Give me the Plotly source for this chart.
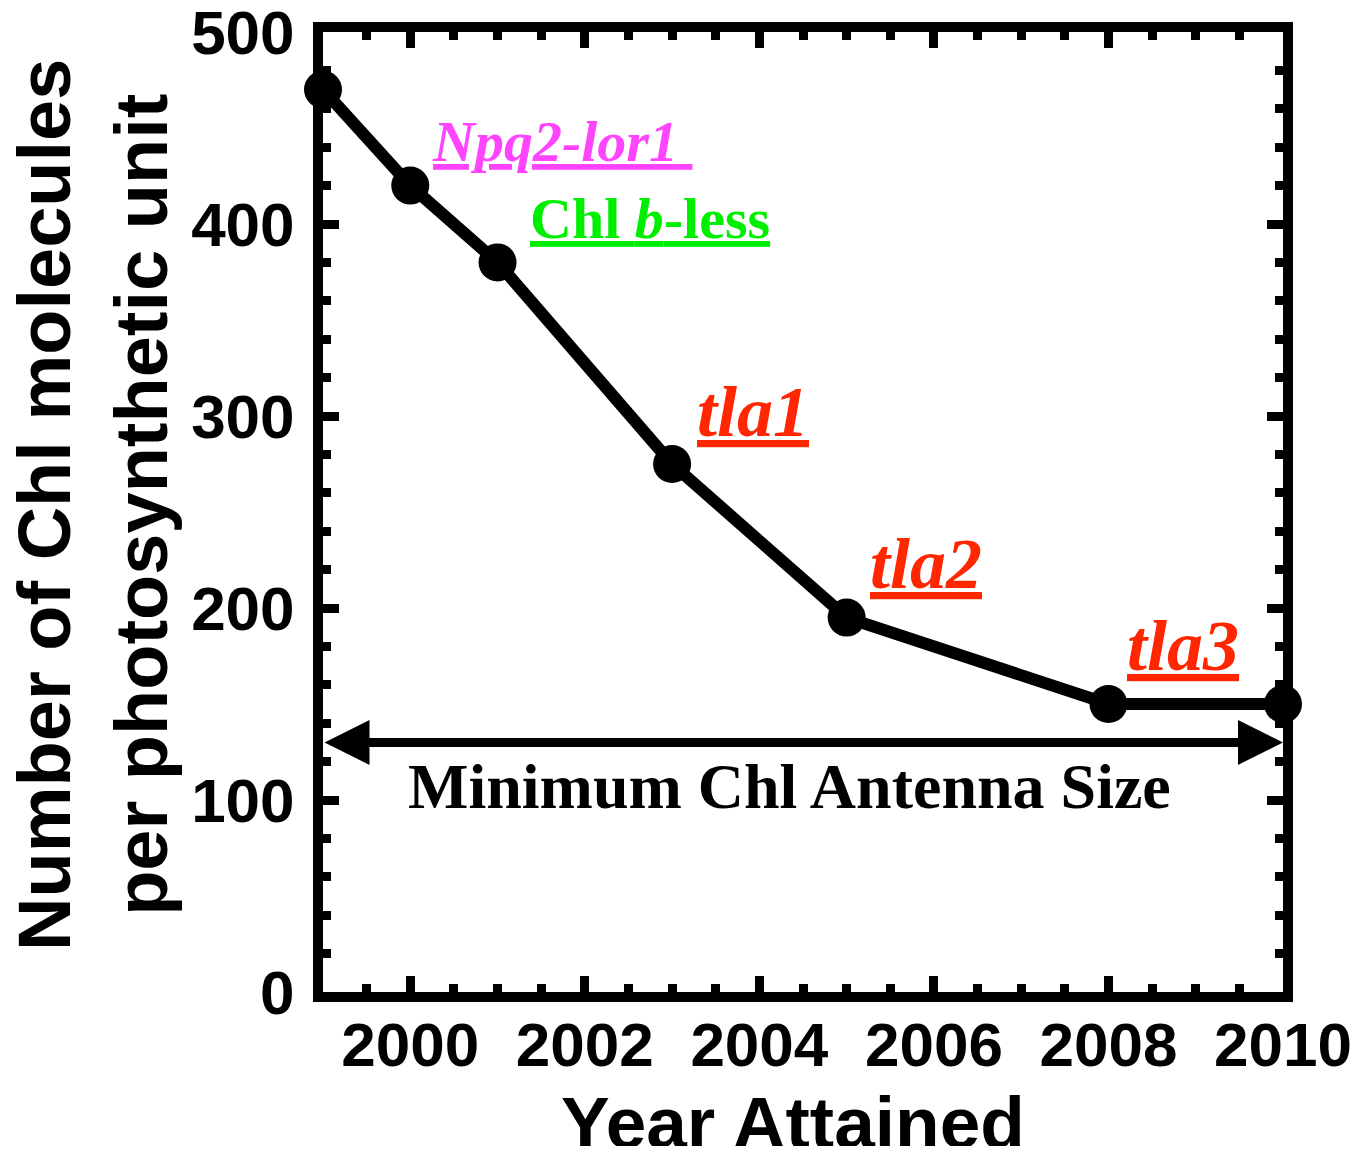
import plotly.graph_objects as go

years = [1999, 2000, 2001, 2003, 2005, 2008, 2010]
chl_per_unit = [470, 420, 380, 275, 195, 150, 150]

min_antenna = 130
x_range = [1999, 2010]
y_range = [0, 500]

labels = [
    # text, x, y, color, size
    ("<b><i>Npq2-lor1</i></b>&nbsp;", 2000.23, 443, "#FF44FF", 58),
    ("<b>Chl <i>b</i>-less</b>", 2001.35, 403, "#00EE00", 58),
    ("<b><i>tla1</i></b>", 2003.26, 302, "#FF2600", 72),
    ("<b><i>tla2</i></b>", 2005.25, 223, "#FF2600", 72),
    ("<b><i>tla3</i></b>", 2008.19, 180, "#FF2600", 72),
]
min_label = "<b>Minimum Chl Antenna Size</b>"

fig = go.Figure()
fig.add_trace(go.Scatter(
    x=years, y=chl_per_unit, mode="lines+markers",
    line=dict(color="black", width=12),
    marker=dict(color="black", size=38),
    cliponaxis=False, showlegend=False,
))

axis_common = dict(
    showline=True, linecolor="black", linewidth=10, mirror="ticks",
    ticks="inside", tickcolor="black", tickwidth=9, ticklen=16,
    showgrid=False, zeroline=False, layer="below traces",
    ticklabeloverflow="allow", automargin=False,
    tickfont=dict(family="Liberation Sans", size=62, color="black", weight="bold"),
)

fig.update_xaxes(range=x_range, tick0=2000, dtick=2, ticklabelstandoff=-10,
                 minor=dict(dtick=0.5, ticks="inside", ticklen=8, tickwidth=9, tickcolor="black", showgrid=False),
                 **axis_common)
fig.update_yaxes(range=y_range, tick0=0, dtick=100, ticklabelstandoff=6,
                 minor=dict(dtick=20, ticks="inside", ticklen=8, tickwidth=9, tickcolor="black", showgrid=False),
                 **axis_common)

for text, x, y, color, size in labels:
    fig.add_annotation(x=x, y=y, xref="x", yref="y", text=text, showarrow=False,
                       xanchor="left", yanchor="middle",
                       font=dict(family="Liberation Serif", size=size, color=color, lineposition="under"))

# double-headed arrow for minimum antenna size
fig.add_annotation(x=x_range[1], y=min_antenna, ax=x_range[0], ay=min_antenna,
                   xref="x", yref="y", axref="x", ayref="y", text="",
                   showarrow=True, arrowhead=2, startarrowhead=2, arrowside="end+start",
                   arrowwidth=9, arrowsize=1.0, startarrowsize=1.0, arrowcolor="black")
fig.add_annotation(x=sum(x_range) / 2 - 0.15, y=107, xref="x", yref="y", text=min_label,
                   showarrow=False, xanchor="center", yanchor="middle",
                   font=dict(family="Liberation Serif", size=64, color="black"))

# axis titles
fig.add_annotation(x=-0.24, y=0.507, xref="paper", yref="paper",
                   text="<b>Number of Chl molecules<br>per photosynthetic unit</b>",
                   textangle=-90, showarrow=False, xanchor="center", yanchor="middle",
                   font=dict(family="Liberation Sans", size=74, color="black"))
fig.add_annotation(x=0.49, y=-0.136, xref="paper", yref="paper",
                   text="<b>Year Attained</b>", showarrow=False,
                   xanchor="center", yanchor="middle",
                   font=dict(family="Liberation Sans", size=73, color="black"))

# page body adds an 8px margin, so the figure is sized to fit inside the window
fig.update_layout(
    width=1343, height=1138,
    margin=dict(l=315, r=68, t=24, b=154),
    plot_bgcolor="white", paper_bgcolor="white",
)

fig.write_html("out.html")
